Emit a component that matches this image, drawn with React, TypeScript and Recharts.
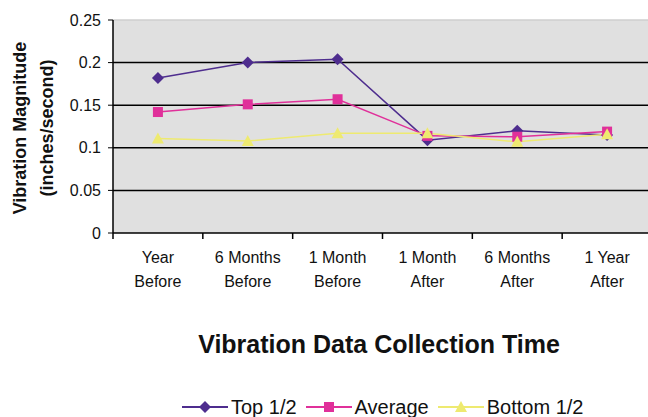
import {
  LineChart,
  Line,
  XAxis,
  YAxis,
  CartesianGrid,
  ReferenceLine,
  Legend,
} from "recharts";

const periods = [
  ["Year", "Before"],
  ["6 Months", "Before"],
  ["1 Month", "Before"],
  ["1 Month", "After"],
  ["6 Months", "After"],
  ["1 Year", "After"],
];

const topHalf = [0.182, 0.2, 0.204, 0.109, 0.12, 0.115];
const average = [0.142, 0.151, 0.157, 0.114, 0.113, 0.119];
const bottomHalf = [0.111, 0.108, 0.117, 0.117, 0.107, 0.116];

const yTicks = [0, 0.05, 0.1, 0.15, 0.2, 0.25];
const gridLines = [0.05, 0.1, 0.15, 0.2];

const data = periods.map((p, i) => ({
  period: p.join(" "),
  top: topHalf[i],
  average: average[i],
  bottom: bottomHalf[i],
}));

const PURPLE = "#4e2d8e";
const MAGENTA = "#e0309a";
const YELLOW = "#eeea70";
const FONT = "'Liberation Sans', Arial, sans-serif";

const Diamond = ({ cx, cy, color }: any) => (
  <path d={`M${cx},${cy - 6}L${cx + 6},${cy}L${cx},${cy + 6}L${cx - 6},${cy}Z`} fill={color} />
);
const Square = ({ cx, cy, color }: any) => (
  <rect x={cx - 5} y={cy - 5} width={10} height={10} fill={color} />
);
const Triangle = ({ cx, cy, color }: any) => (
  <path d={`M${cx},${cy - 6}L${cx + 6},${cy + 5}L${cx - 6},${cy + 5}Z`} fill={color} />
);

const XTick = ({ x, y, payload, index }: any) => {
  const half = payload.offset || 45;
  const lines = periods[index] || [];
  return (
    <g>
      <line x1={x - half} y1={y - 8} x2={x - half} y2={y - 2} stroke="#000" strokeWidth={1.5} />
      {index === periods.length - 1 && (
        <line x1={x + half} y1={y - 8} x2={x + half} y2={y - 2} stroke="#000" strokeWidth={1.5} />
      )}
      {lines.map((t: string, i: number) => (
        <text
          key={i}
          x={x}
          y={y + 22 + i * 24}
          textAnchor="middle"
          fontSize={16}
          fontFamily={FONT}
          fill="#111"
        >
          {t}
        </text>
      ))}
    </g>
  );
};

const YLabel = () => (
  <g fontFamily={FONT} fontWeight="bold" fontSize={18} fill="#111">
    <text x={20} y={128} transform="rotate(-90 20 128)" textAnchor="middle" dominantBaseline="central">
      Vibration Magnitude
    </text>
    <text x={47} y={128} transform="rotate(-90 47 128)" textAnchor="middle" dominantBaseline="central">
      (inches/second)
    </text>
  </g>
);

const legendItems = [
  { label: "Top 1/2", color: PURPLE, Shape: Diamond },
  { label: "Average", color: MAGENTA, Shape: Square },
  { label: "Bottom 1/2", color: YELLOW, Shape: Triangle },
];

const LegendContent = () => (
  <div style={{ display: "flex", fontFamily: FONT, fontSize: 20, lineHeight: "22px", paddingLeft: 182 }}>
    {legendItems.map(({ label, color, Shape }) => (
      <div key={label} style={{ display: "flex", alignItems: "center", marginRight: 9 }}>
        <svg width={46} height={16}>
          <line x1={0} y1={8} x2={46} y2={8} stroke={color} strokeWidth={2} />
          <Shape cx={23} cy={8} color={color} />
        </svg>
        <span style={{ marginLeft: 3, color: "#111" }}>{label}</span>
      </div>
    ))}
  </div>
);

export default function App() {
  return (
    <div style={{ position: "absolute", left: 0, top: 0, width: 648, height: 417, overflow: "hidden", background: "#fff" }}>
      <LineChart
        width={660}
        height={417}
        data={data}
        margin={{ top: 20, right: 8, bottom: 134, left: 53 }}
      >
        <CartesianGrid fill="#e0e0e0" stroke="#c8c8c8" horizontal={false} vertical={false} />
        {gridLines.map((v) => (
          <ReferenceLine key={v} y={v} stroke="#000" strokeWidth={1.5} />
        ))}
        <ReferenceLine y={0.25} stroke="#cfcfcf" strokeWidth={1.5} />
        <XAxis
          dataKey="period"
          scale="band"
          height={50}
          interval={0}
          tickLine={false}
          axisLine={{ stroke: "#000", strokeWidth: 1.5 }}
          tick={<XTick />}
        />
        <YAxis
          width={60}
          domain={[0, 0.25]}
          ticks={yTicks}
          tickFormatter={(v: number) => String(v)}
          tick={{ fontSize: 16, fontFamily: FONT, fill: "#111" }}
          tickLine={{ stroke: "#000" }}
          tickSize={5}
          tickMargin={7}
          axisLine={{ stroke: "#000", strokeWidth: 1.5 }}
        />
        <Legend
          verticalAlign="middle"
          align="center"
          content={<LegendContent />}
          wrapperStyle={{ top: 396, left: 0, width: 648 }}
        />
        <Line
          dataKey="top"
          stroke={PURPLE}
          strokeWidth={1.5}
          dot={<Diamond color={PURPLE} />}
          isAnimationActive={false}
        />
        <Line
          dataKey="average"
          stroke={MAGENTA}
          strokeWidth={1.5}
          dot={<Square color={MAGENTA} />}
          isAnimationActive={false}
        />
        <Line
          dataKey="bottom"
          stroke={YELLOW}
          strokeWidth={1.5}
          dot={<Triangle color={YELLOW} />}
          isAnimationActive={false}
        />
      </LineChart>
      <svg width={648} height={417} style={{ position: "absolute", left: 0, top: 0, pointerEvents: "none" }}>
        <YLabel />
        <text
          x={379}
          y={353}
          textAnchor="middle"
          fontFamily={FONT}
          fontWeight="bold"
          fontSize={25}
          fill="#111"
        >
          Vibration Data Collection Time
        </text>
      </svg>
    </div>
  );
}
